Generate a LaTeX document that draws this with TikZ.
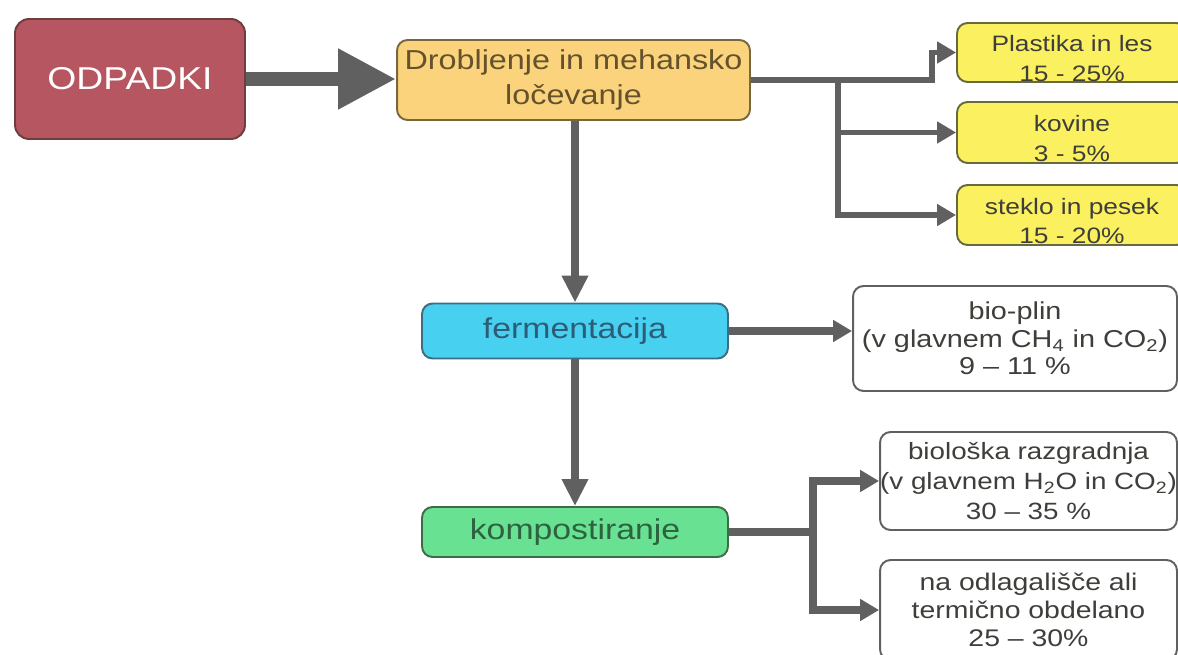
\documentclass[tikz,border=0pt]{standalone}
\usepackage{fontspec}
\setmainfont{Liberation Sans}[FakeStretch=1.18]
\usetikzlibrary{positioning,calc,arrows.meta}

\definecolor{odpFill}{RGB}{181,86,96}
\definecolor{odpLine}{RGB}{110,62,62}
\definecolor{drobFill}{RGB}{251,211,124}
\definecolor{drobLine}{RGB}{120,102,62}
\definecolor{drobText}{RGB}{100,82,45}
\definecolor{yelFill}{RGB}{250,240,96}
\definecolor{yelLine}{RGB}{105,105,62}
\definecolor{fermFill}{RGB}{72,208,240}
\definecolor{fermLine}{RGB}{62,108,128}
\definecolor{fermText}{RGB}{45,92,118}
\definecolor{kompFill}{RGB}{104,225,146}
\definecolor{kompLine}{RGB}{62,108,72}
\definecolor{kompText}{RGB}{45,98,62}
\definecolor{connGray}{RGB}{96,96,96}
\definecolor{txtGray}{RGB}{62,62,58}

% pushes the text of the yellow boxes down a little
\newcommand{\lowGap}{\rule{0pt}{16pt}}

\tikzset{
    box/.style={draw, rounded corners=6pt, line width=1.1pt, align=center, inner sep=0pt},
    yelbox/.style={box, fill=yelFill, draw=yelLine, text=txtGray, minimum width=4.6cm,
            font=\fontsize{12.7}{17}\selectfont},
    whitebox/.style={box, fill=white, draw=connGray, text=txtGray},
    conn/.style={connGray, line width=4pt},
    thinconn/.style={connGray, line width=3.2pt},
    sidetip/.style={-{Triangle[length=0.38cm,width=0.42cm]}},
    downtip/.style={-{Triangle[length=0.54cm,width=0.5cm]}}
}

\begin{document}
\begin{tikzpicture}[x=0.02cm,y=-0.02cm]
    \clip (0,0) rectangle (1178,655);

    % process boxes
    \node[box, rounded corners=8pt, fill=odpFill, draw=odpLine, text=white,
        minimum width=4.6cm, minimum height=2.4cm, font=\fontsize{18}{22}\selectfont]
        (odpadki) at (130,79) {ODPADKI};
    \node[box, fill=drobFill, draw=drobLine, text=drobText,
        minimum width=7.06cm, minimum height=1.6cm, font=\fontsize{15.6}{19.8}\selectfont]
        (drobBox) at (573.5,80) {Drobljenje in mehansko\\ločevanje};
    \node[box, fill=fermFill, draw=fermLine, text=fermText,
        minimum width=6.12cm, minimum height=1.1cm, font=\fontsize{16.3}{20}\selectfont]
        (fermBox) at (575,331) {fermentacija};
    \node[box, fill=kompFill, draw=kompLine, text=kompText,
        minimum width=6.12cm, minimum height=1.0cm, font=\fontsize{16.3}{20}\selectfont]
        (kompBox) at (575,532) {kompostiranje};

    % products of separation
    \node[yelbox, minimum height=1.18cm] (plastBox) at (1072,52.5) {\lowGap Plastika in les\\15 - 25\%};
    \node[yelbox, minimum height=1.22cm] (kovBox) at (1072,132.5) {\lowGap kovine\\3 - 5\%};
    \node[yelbox, minimum height=1.2cm] (stekBox) at (1072,215) {\lowGap steklo in pesek\\15 - 20\%};

    % products of fermentation and composting
    \node[whitebox, minimum width=6.48cm, minimum height=2.1cm, font=\fontsize{13.9}{15.6}\selectfont]
        (plinBox) at (1015,338.5) {bio-plin\\(v glavnem CH\textsubscript{4} in CO\textsubscript{2})\\9 -- 11 \%};
    \node[whitebox, minimum width=5.94cm, minimum height=1.96cm, font=\fontsize{13.4}{17}\selectfont]
        (razgBox) at (1028.5,481) {biološka razgradnja\\(v glavnem H\textsubscript{2}O in CO\textsubscript{2})\\30 -- 35 \%};
    \node[whitebox, minimum width=5.94cm, minimum height=2cm, font=\fontsize{13.7}{16}\selectfont]
        (odlagBox) at (1028.5,610) {na odlagališče ali\\termično obdelano\\25 -- 30\%};

    % junctions
    \coordinate (jPlast) at (932,80);
    \coordinate (jSep) at (838,80);
    \coordinate (jKomp) at (813,532);

    % arrows
    \draw[connGray, line width=8pt, -{Triangle[length=1.16cm,width=1.14cm]}]
        (odpadki.east) -- (odpadki.east -| drobBox.west);
    \draw[thinconn, sidetip] (drobBox.east |- jPlast) -- (jPlast) |- (plastBox.west);
    \draw[thinconn, sidetip] (jSep) |- (kovBox.west);
    \draw[thinconn, sidetip] (jSep) |- (stekBox.west);

    \draw[conn, line width=4.5pt, downtip] (drobBox.south -| fermBox.north) -- (fermBox.north);
    \draw[conn, line width=4.5pt, downtip] (fermBox.south) -- (kompBox.north);

    \draw[conn, sidetip] (fermBox.east) -- (fermBox.east -| plinBox.west);
    \draw[conn] (kompBox.east) -- (jKomp);
    \draw[conn, sidetip] (jKomp) |- (razgBox.west);
    \draw[conn, sidetip] (jKomp) |- (odlagBox.west);
\end{tikzpicture}
\end{document}
